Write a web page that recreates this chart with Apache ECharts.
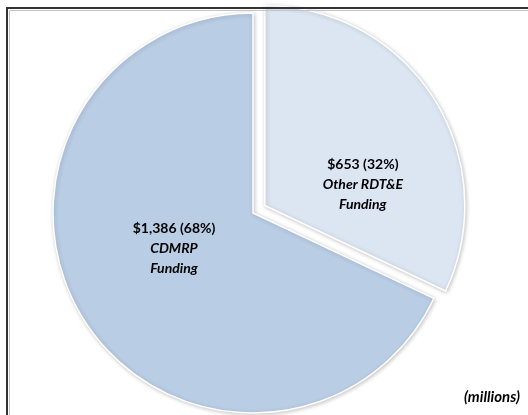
<!DOCTYPE html>
<html>
<head>
<meta charset="utf-8">
<script src="https://cdn.jsdelivr.net/npm/echarts@6/dist/echarts.min.js"></script>
<style>
  html, body { margin: 0; padding: 0; background: #fff; }
  #chart { width: 528px; height: 415px; }
</style>
</head>
<body>
<div id="chart"></div>
<script>
// slices, clockwise from 12 o'clock
const categories = ['Other RDT&E Funding', 'CDMRP Funding'];
const labelLines = [['Other RDT&E', 'Funding'], ['CDMRP', 'Funding']];
const fundingValues = [653, 1386];
const explodedSlice = [true, false];
const sliceColors = ['#dce6f2', '#b9cde5'];
const unitNote = '(millions)';

// nudges so labels land where the original put them
const labelShift = [[11, 34], [8, -20]];

const chart = echarts.init(document.getElementById('chart'));

const pieData = categories.map((name, i) => ({
  name: name,
  value: fundingValues[i],
  selected: explodedSlice[i],
  itemStyle: {color: sliceColors[i]},
}));

const font = 'Lato, "Open Sans", sans-serif';

chart.setOption({
  animation: false,
  textStyle: {fontFamily: font},
  graphic: [
    {
      type: 'rect',
      z: 100,
      shape: {x: 7, y: 8, width: 560, height: 440},
      style: {fill: 'none', stroke: '#333', lineWidth: 2},
      silent: true,
    },
    {
      type: 'rect',
      z: 100,
      shape: {x: 9.5, y: 10.5, width: 560, height: 440},
      style: {fill: 'none', stroke: '#c4c4c4', lineWidth: 1},
      silent: true,
    },
    {
      type: 'text',
      right: 8,
      top: 390,
      style: {
        text: unitNote,
        fontSize: 15,
        fontWeight: 'bold',
        fontStyle: 'italic',
        fill: '#000',
        fontFamily: font,
      },
    },
  ],
  series: [{
    type: 'pie',
    center: [253, 213],
    radius: 200,
    startAngle: 90,
    clockwise: true,
    selectedMode: 'single',
    selectedOffset: 14,
    emphasis: {disabled: true},
    itemStyle: {
      borderColor: '#fff',
      borderWidth: 1.5,
      shadowBlur: 4,
      shadowOffsetX: 1,
      shadowOffsetY: 1,
      shadowColor: 'rgba(0,0,0,0.22)',
    },
    label: {
      show: true,
      position: 'inside',
      color: '#000',
      lineHeight: 20,
      formatter: function(params) {
        const head = '$' + params.value.toLocaleString('en-US') + ' (' + Math.round(params.percent) + '%)';
        const rest = labelLines[params.dataIndex].map(t => '{it|' + t + '}').join('\n');
        return '{hd|' + head + '}\n' + rest;
      },
      rich: {
        hd: {fontSize: 14, fontWeight: 'bold', lineHeight: 20, fontFamily: font},
        it: {fontSize: 14, fontWeight: 'bold', fontStyle: 'italic', lineHeight: 20, fontFamily: font},
      },
    },
    labelLine: {show: false},
    labelLayout: function(params) {
      const s = labelShift[params.dataIndex];
      return {dx: s[0], dy: s[1]};
    },
    data: pieData,
  }],
});
</script>
</body>
</html>
